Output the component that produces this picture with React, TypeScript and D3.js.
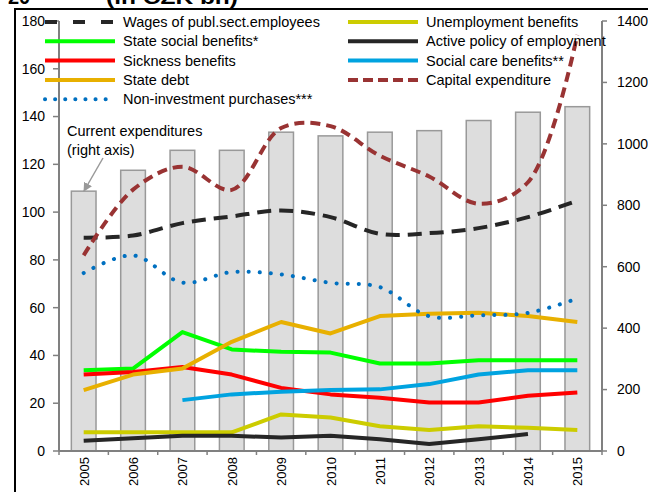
import React from "react";
import * as d3 from "d3";

const years = ["2005", "2006", "2007", "2008", "2009", "2010", "2011", "2012", "2013", "2014", "2015"];

// current expenditures, right axis
const currentExp = [846, 914, 979, 979, 1038, 1026, 1038, 1043, 1076, 1103, 1121];

// left axis series
const wages = [89.3, 90.2, 95.4, 98.2, 100.7, 97.9, 90.9, 91.2, 93.3, 97.9, 104.8];
const stateSocial = [33.8, 34.5, 49.8, 42.5, 41.5, 41.2, 36.6, 36.6, 38.0, 38.0, 38.0];
const sickness = [32.0, 33.1, 35.2, 32.0, 26.4, 23.7, 22.3, 20.3, 20.3, 23.1, 24.5];
const stateDebt = [25.5, 32.0, 34.5, 45.7, 54.0, 49.2, 56.5, 57.5, 57.9, 56.5, 54.0];
const nonInvest = [74.5, 81.9, 70.5, 74.9, 73.9, 70.4, 68.6, 56.4, 56.8, 57.8, 63.8];
const unemployment = [7.8, 7.8, 7.8, 7.8, 15.3, 14.0, 10.4, 8.8, 10.4, 9.7, 8.8];
const activePolicy = [4.3, 5.3, 6.4, 6.4, 5.6, 6.4, 4.9, 2.9, 4.9, 7.1, null];
const socialCare = [null, null, 21.3, 23.7, 24.8, 25.5, 25.8, 28.0, 32.0, 33.8, 33.8];
const capital = [81.9, 109.4, 119.0, 109.3, 135.2, 136.0, 123.6, 114.9, 103.5, 112.5, 174.2];

const leftTicks = [0, 20, 40, 60, 80, 100, 120, 140, 160, 180];
const rightTicks = [0, 200, 400, 600, 800, 1000, 1200, 1400];

type S = {
  name: string;
  values: (number | null)[];
  color: string;
  dash?: string;
  legendDash?: string;
  smooth?: boolean;
  dotted?: boolean;
  col: number;
  row: number;
};

const series: S[] = [
  { name: "Wages of publ.sect.employees", values: wages, color: "#262626", dash: "14,8", legendDash: "12,16", smooth: true, col: 0, row: 0 },
  { name: "State social benefits*", values: stateSocial, color: "#00ff00", col: 0, row: 1 },
  { name: "Sickness benefits", values: sickness, color: "#ff0000", col: 0, row: 2 },
  { name: "State debt", values: stateDebt, color: "#e8b000", col: 0, row: 3 },
  { name: "Non-investment purchases***", values: nonInvest, color: "#0070c0", dotted: true, smooth: true, col: 0, row: 4 },
  { name: "Unemployment benefits", values: unemployment, color: "#cccc00", col: 1, row: 0 },
  { name: "Active policy of employment", values: activePolicy, color: "#262626", col: 1, row: 1 },
  { name: "Social care benefits**", values: socialCare, color: "#00a3e0", col: 1, row: 2 },
  { name: "Capital expenditure", values: capital, color: "#993333", dash: "10,6", legendDash: "10,5", smooth: true, col: 1, row: 3 },
];

const left = 59, right = 602, top = 21, bottom = 451;
const font = "'Liberation Sans', Arial, sans-serif";

const App = () => {
  const x = d3.scaleBand().domain(years).range([left, right]).paddingInner(0.5).paddingOuter(0.25);
  const cx = (y: string) => (x(y) as number) + x.bandwidth() / 2;
  const yL = d3.scaleLinear().domain([0, 180]).range([bottom, top]);
  const yR = d3.scaleLinear().domain([0, 1400]).range([bottom, top]);

  const boundaries = d3.range(years.length + 1).map((i) => left + (i * (right - left)) / years.length);

  const legendX = [45, 348];
  const legendLen = 70;
  const legendRowY = (r: number) => 22 + r * 19.3;

  return (
    <div style={{ position: "fixed", left: 0, top: 0 }}>
      <svg width={648} height={492} style={{ display: "block", background: "#fff" }} fontFamily={font}>
        {/* title, cut off at the top */}
        <text x={8} y={4} fontSize={20} fontWeight="bold">20</text>
        <text x={106} y={4} fontSize={20} fontWeight="bold" textLength={132} lengthAdjust="spacingAndGlyphs">(in CZK bn)</text>

        {/* outer frame */}
        <rect x={15} y={9} width={700} height={600} fill="none" stroke="#000" strokeWidth={2} />

        {/* bars */}
        {years.map((yr, i) => (
          <rect key={yr} x={x(yr)} y={yR(currentExp[i])} width={x.bandwidth()} height={bottom - yR(currentExp[i])}
            fill="#dddddd" stroke="#999" strokeWidth={1.5} />
        ))}

        {/* axes */}
        <line x1={left} x2={left} y1={top} y2={bottom} stroke="#808080" strokeWidth={2} />
        <line x1={right} x2={right} y1={top} y2={bottom} stroke="#808080" strokeWidth={2} />
        <line x1={left} x2={right} y1={bottom} y2={bottom} stroke="#808080" strokeWidth={2} />
        {leftTicks.map((t) => (
          <g key={"l" + t}>
            <line x1={left - 6} x2={left} y1={yL(t)} y2={yL(t)} stroke="#808080" strokeWidth={1.5} />
            <text x={45} y={yL(t)} dy="0.35em" textAnchor="end" fontSize={14}>{t}</text>
          </g>
        ))}
        {rightTicks.map((t) => (
          <g key={"r" + t}>
            <line x1={right} x2={right + 5} y1={yR(t)} y2={yR(t)} stroke="#808080" strokeWidth={1.5} />
            <text x={617} y={yR(t)} dy="0.35em" textAnchor="start" fontSize={14}>{t}</text>
          </g>
        ))}
        {boundaries.map((b, i) => (
          <line key={"b" + i} x1={b} x2={b} y1={bottom} y2={bottom + 4} stroke="#808080" strokeWidth={1.5} />
        ))}
        {years.map((yr) => (
          <text key={"t" + yr} transform={`translate(${cx(yr) + 5},${bottom + 6}) rotate(-90)`} textAnchor="end" fontSize={13}>{yr}</text>
        ))}

        {/* lines */}
        {series.map((s) => {
          const line = d3.line<number | null>()
            .defined((d) => d !== null)
            .x((_, i) => cx(years[i]))
            .y((d) => yL(d as number))
            .curve(s.smooth ? d3.curveCatmullRom.alpha(0.5) : d3.curveLinear);
          return (
            <path key={s.name} d={line(s.values) || ""} fill="none" stroke={s.color}
              strokeWidth={4}
              strokeDasharray={s.dotted ? "0.1,11" : s.dash}
              strokeLinecap={s.dotted ? "round" : "butt"} strokeLinejoin="round" />
          );
        })}

        {/* annotation */}
        <text x={67} y={131} dy="0.35em" fontSize={14.5}>Current expenditures</text>
        <text x={67} y={150} dy="0.35em" fontSize={14.5}>(right axis)</text>
        <defs>
          <marker id="arr" viewBox="0 0 10 10" refX={9} refY={5} markerWidth={6} markerHeight={6} orient="auto">
            <path d="M0,0 L10,5 L0,10 z" fill="#999" />
          </marker>
        </defs>
        <line x1={103} y1={158} x2={84} y2={191} stroke="#999" strokeWidth={1.5} markerEnd="url(#arr)" />

        {/* legend */}
        {series.map((s) => {
          const lx = legendX[s.col];
          const ly = legendRowY(s.row);
          return (
            <g key={"lg" + s.name}>
              <line x1={lx} x2={lx + legendLen} y1={ly} y2={ly} stroke={s.color} strokeWidth={4}
                strokeDasharray={s.dotted ? "0.1,10" : s.legendDash}
                strokeLinecap={s.dotted ? "round" : "butt"} />
              <text x={lx + 78} y={ly} dy="0.35em" fontSize={14.5}>{s.name}</text>
            </g>
          );
        })}
      </svg>
    </div>
  );
};

export default App;
